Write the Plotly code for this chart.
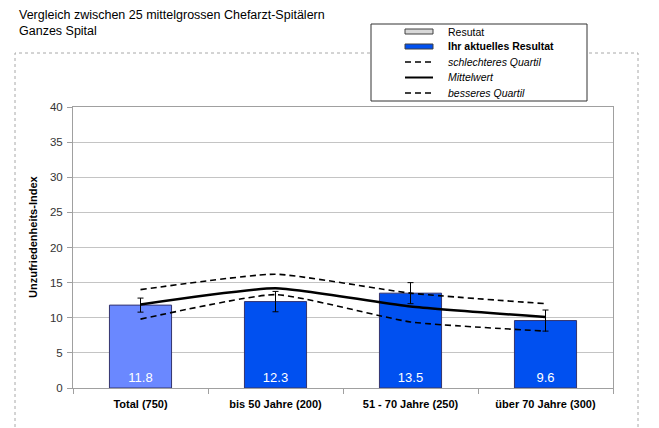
import plotly.graph_objects as go

categories = ["Total (750)", "bis 50 Jahre (200)", "51 - 70 Jahre (250)", "über 70 Jahre (300)"]
resultat = [11.8, 12.3, 13.5, 9.6]
error = [1.0, 1.45, 1.5, 1.5]
schlechteres_quartil = [14.0, 16.2, 13.5, 12.0]
mittelwert = [11.9, 14.2, 11.6, 10.1]
besseres_quartil = [9.8, 13.3, 9.4, 8.1]
bar_colors = ["#6A88FF", "#0050F0", "#0050F0", "#0050F0"]

FONT = "Liberation Sans, Arial, sans-serif"
W, H = 659, 428
L, R, T, B = 73, 46, 107, 40
PW, PH = W - L - R, H - T - B

def px(x):
    return (x - L) / PW

def py(y):
    return (H - B - y) / PH

fig = go.Figure()

fig.add_trace(go.Bar(
    x=categories, y=resultat,
    marker=dict(color=bar_colors, line=dict(color="#34346E", width=1)),
    width=0.46,
    text=[f"{v:.1f}" for v in resultat],
    textposition="inside", insidetextanchor="start",
    textfont=dict(color="white", size=13, family=FONT),
    error_y=dict(type="data", array=error, visible=True, color="black", thickness=1, width=3),
    showlegend=False, hoverinfo="skip",
))

SM = 0.45
fig.add_trace(go.Scatter(x=categories, y=schlechteres_quartil, mode="lines",
                         line=dict(color="black", width=1.6, dash="6px,4px", shape="spline", smoothing=SM),
                         showlegend=False))
fig.add_trace(go.Scatter(x=categories, y=mittelwert, mode="lines",
                         line=dict(color="black", width=2.5, shape="spline", smoothing=SM),
                         showlegend=False))
fig.add_trace(go.Scatter(x=categories, y=besseres_quartil, mode="lines",
                         line=dict(color="black", width=1.6, dash="6px,4px", shape="spline", smoothing=SM),
                         showlegend=False))

shapes = []
# outer dashed frame
shapes.append(dict(type="rect", xref="paper", yref="paper",
                   x0=px(15), x1=px(638), y0=py(440), y1=py(53),
                   line=dict(color="#A8A8A8", width=1, dash="dot"), fillcolor="rgba(0,0,0,0)", layer="above"))
# legend box
shapes.append(dict(type="rect", xref="paper", yref="paper",
                   x0=px(371), x1=px(587), y0=py(101), y1=py(24),
                   line=dict(color="#333333", width=1), fillcolor="white", layer="above"))

legend_rows = [
    ("Resutat", "rect", "#D8D8D8", ""),
    ("<b>Ihr aktuelles Resultat</b>", "rect", "#0050F0", ""),
    ("<i>schlechteres Quartil</i>", "line", "black", "dash"),
    ("<i>Mittelwert</i>", "line", "black", "solid"),
    ("<i>besseres Quartil</i>", "line", "black", "dash"),
]
row_y = [31.5, 46.5, 62, 77.5, 93]
annotations = []
for (label, kind, col, dash), yy in zip(legend_rows, row_y):
    if kind == "rect":
        shapes.append(dict(type="rect", xref="paper", yref="paper",
                           x0=px(405), x1=px(433), y0=py(yy + 2.5), y1=py(yy - 2.5),
                           line=dict(color="#404040", width=1), fillcolor=col, layer="above"))
    else:
        shapes.append(dict(type="line", xref="paper", yref="paper",
                           x0=px(405), x1=px(433), y0=py(yy), y1=py(yy),
                           line=dict(color=col, width=2 if dash == "solid" else 1.6,
                                     dash="solid" if dash == "solid" else "6px,4px"), layer="above"))
    annotations.append(dict(xref="paper", yref="paper", x=px(446), y=py(yy), text=label,
                            showarrow=False, xanchor="left", yanchor="middle",
                            font=dict(family=FONT, size=10.5, color="black")))

annotations.append(dict(xref="paper", yref="paper", x=px(17), y=py(15),
                        text="Vergleich zwischen 25 mittelgrossen Chefarzt-Spitälern",
                        showarrow=False, xanchor="left", yanchor="middle",
                        font=dict(family=FONT, size=12.5, color="black")))
annotations.append(dict(xref="paper", yref="paper", x=px(17), y=py(31),
                        text="Ganzes Spital",
                        showarrow=False, xanchor="left", yanchor="middle",
                        font=dict(family=FONT, size=12.5, color="black")))
annotations.append(dict(xref="paper", yref="paper", x=px(33), y=py(237),
                        text="<b>Unzufriedenheits-Index</b>", textangle=-90,
                        showarrow=False, xanchor="center", yanchor="middle",
                        font=dict(family=FONT, size=11, color="black")))

fig.update_layout(
    width=W, height=H,
    margin=dict(l=L, r=R, t=T, b=B, pad=0),
    paper_bgcolor="white", plot_bgcolor="white",
    font=dict(family=FONT, color="black"),
    bargap=0.54,
    shapes=shapes, annotations=annotations,
    showlegend=False,
)
fig.update_yaxes(range=[0, 40], dtick=5, showgrid=True, gridcolor="#C4C4C4", gridwidth=1,
                 showline=True, linecolor="#A0A0A0", mirror=True,
                 ticks="outside", ticklen=5, tickcolor="#A0A0A0", ticklabelstandoff=2,
                 tickfont=dict(family=FONT, size=11.5, color="#333333"), zeroline=False, fixedrange=True)
fig.update_xaxes(showline=True, linecolor="#A0A0A0", mirror=True,
                 ticks="outside", ticklen=5, tickcolor="#A0A0A0", tickson="boundaries",
                 ticklabelstandoff=6,
                 tickfont=dict(family=FONT, size=11, color="black"),
                 tickvals=categories, ticktext=[f"<b>{c}</b>" for c in categories], fixedrange=True)

fig.write_html("out.html", config={"displayModeBar": False},
               post_script="document.body.style.margin='0';document.body.style.overflow='hidden';")
